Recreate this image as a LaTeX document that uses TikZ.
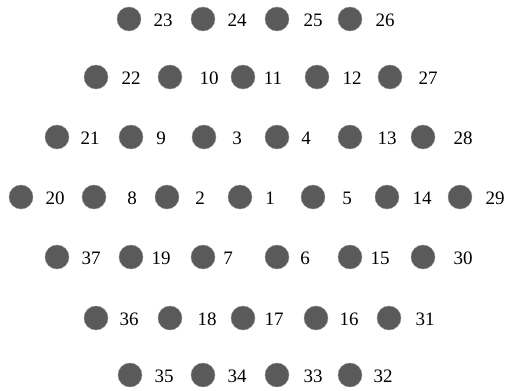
\documentclass[tikz,border=0pt]{standalone}
\usepackage{fontspec}
\setmainfont{Liberation Serif}
\definecolor{dotgray}{HTML}{5A5A5A}
\begin{document}
\begin{tikzpicture}[x=1pt,y=-1pt,
  elec/.style={circle,fill=dotgray,draw=dotgray!70,line width=0.4pt,minimum size=24pt,inner sep=0pt},
  lab/.style={inner sep=0pt,font=\fontsize{19}{19}\selectfont,text=black}]
\useasboundingbox (0,0) rectangle (507,391);
\foreach \n/\cx/\cy/\lx in {
  23/129/19/163, 24/203/19/237, 25/277/19/313, 26/350/19/385,
  22/96/77/131, 10/170/77/209, 11/243/77/273, 12/317/77/352, 27/390/77/428,
  21/57/137/90, 9/131/137/161, 3/204/137/237, 4/277/137/306, 13/350/137/387, 28/423/137/463,
  20/21/197/55, 8/94/197/132, 2/167/197/200, 1/240/197/270, 5/313/197/347, 14/387/197/422, 29/460/197/495,
  37/57/257/91, 19/131/257/161, 7/203/257/228, 6/277/257/305, 15/350/257/380, 30/423/257/463,
  36/96/318/129, 18/170/318/207, 17/243/318/274, 16/316/318/349, 31/389/318/425,
  35/130/375/164, 34/203/375/237, 33/277/375/313, 32/350/375/383}
{
  \node[elec] (c\n) at (\cx,\cy) {};
  \node[lab] (l\n) at (\lx,\cy+1) {\n};
}
\end{tikzpicture}
\end{document}
